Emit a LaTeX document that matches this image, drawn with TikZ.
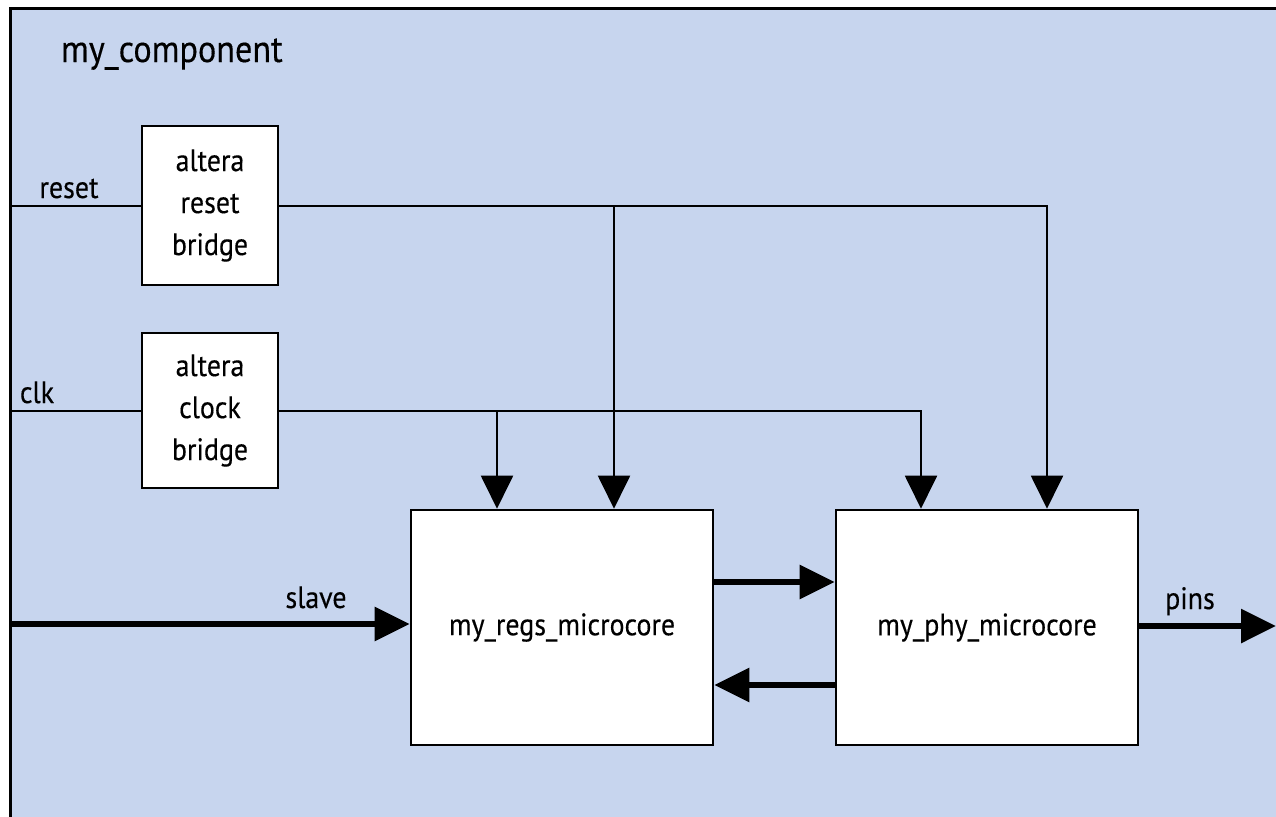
\documentclass[tikz,border=0pt]{standalone}
\usepackage{fontspec}
\setmainfont{PT Sans}[FakeStretch=0.9,FakeBold=0.3]
\usepackage{tikz}
\usetikzlibrary{calc,arrows.meta,positioning}
\definecolor{panelblue}{HTML}{C7D5EE}

\begin{document}
\begin{tikzpicture}[x=0.5pt,y=-0.5pt,>={Triangle[length=16.5pt,width=16pt]},
		font=\fontsize{15.5}{21}\selectfont,
		blk/.style={draw,line width=1.3pt,fill=white,inner sep=0pt},
		bridge/.style={blk,minimum width=68pt,align=center},
		core/.style={blk,minimum width=151pt,minimum height=117.5pt},
		sig/.style={line width=1pt},
		bus/.style={line width=3pt,-{Triangle[length=17.5pt,width=16.5pt]}}]
			\useasboundingbox (0,0) rectangle (1276,816);
			
			% outer component frame
			\draw[line width=1.5pt,fill=panelblue] (10,8) rectangle (1310,840);
			\node[anchor=base west,font=\fontsize{19}{23}\selectfont] (title) at (54,62) {my\_component};
			
			\node[bridge,minimum height=79.5pt] (rstbr) at (210,205.5) {altera\\reset\\bridge};
			\node[bridge,minimum height=77.5pt] (clkbr) at (210,410.5) {altera\\clock\\bridge};
			\node[core] (regs) at (562,627.5) {my\_regs\_microcore};
			\node[core] (phy) at (987,627.5) {my\_phy\_microcore};
			
			\coordinate (rstIn) at (10,206);
			\coordinate (clkIn) at (10,411);
			\coordinate (slvIn) at (10,624);
			\coordinate (pinsOut) at (1276,626);
			\coordinate (rstTapA) at ($(regs.north)+(52,0)$);
			\coordinate (rstTapB) at ($(phy.north)+(60,0)$);
			\coordinate (clkTapA) at ($(regs.north)+(-65,0)$);
			\coordinate (clkTapB) at ($(phy.north)+(-66,0)$);
			\coordinate (fwdA) at ($(regs.east)+(0,-45.5)$);
			\coordinate (bwdA) at ($(phy.west)+(0,57.5)$);
			
			% reset and clock
			\draw[sig] (rstIn) -- (rstIn -| rstbr.west);
			\draw[sig] (clkIn) -- (clkIn -| clkbr.west);
			\draw[sig,->] (rstbr.east) -| (rstTapB);
			\draw[sig,->] (rstTapA |- rstbr.east) -- (rstTapA);
			\draw[sig,->] (clkbr.east) -| (clkTapB);
			\draw[sig,->] (clkTapA |- clkbr.east) -- (clkTapA);
			
			% data paths
			\draw[bus] (slvIn) -- (slvIn -| regs.west);
			\draw[bus] (fwdA) -- (fwdA -| phy.west);
			\draw[bus] (bwdA) -- (bwdA -| regs.east);
			\draw[bus] (pinsOut -| phy.east) -- (pinsOut);
			
			\node[anchor=base] (lblRst) at (69,198) {reset};
			\node[anchor=base] (lblClk) at (37,403) {clk};
			\node[anchor=base] (lblSlv) at (316,608) {slave};
			\node[anchor=base] (lblPins) at (1190,609) {pins};
		\end{tikzpicture}
\end{document}
